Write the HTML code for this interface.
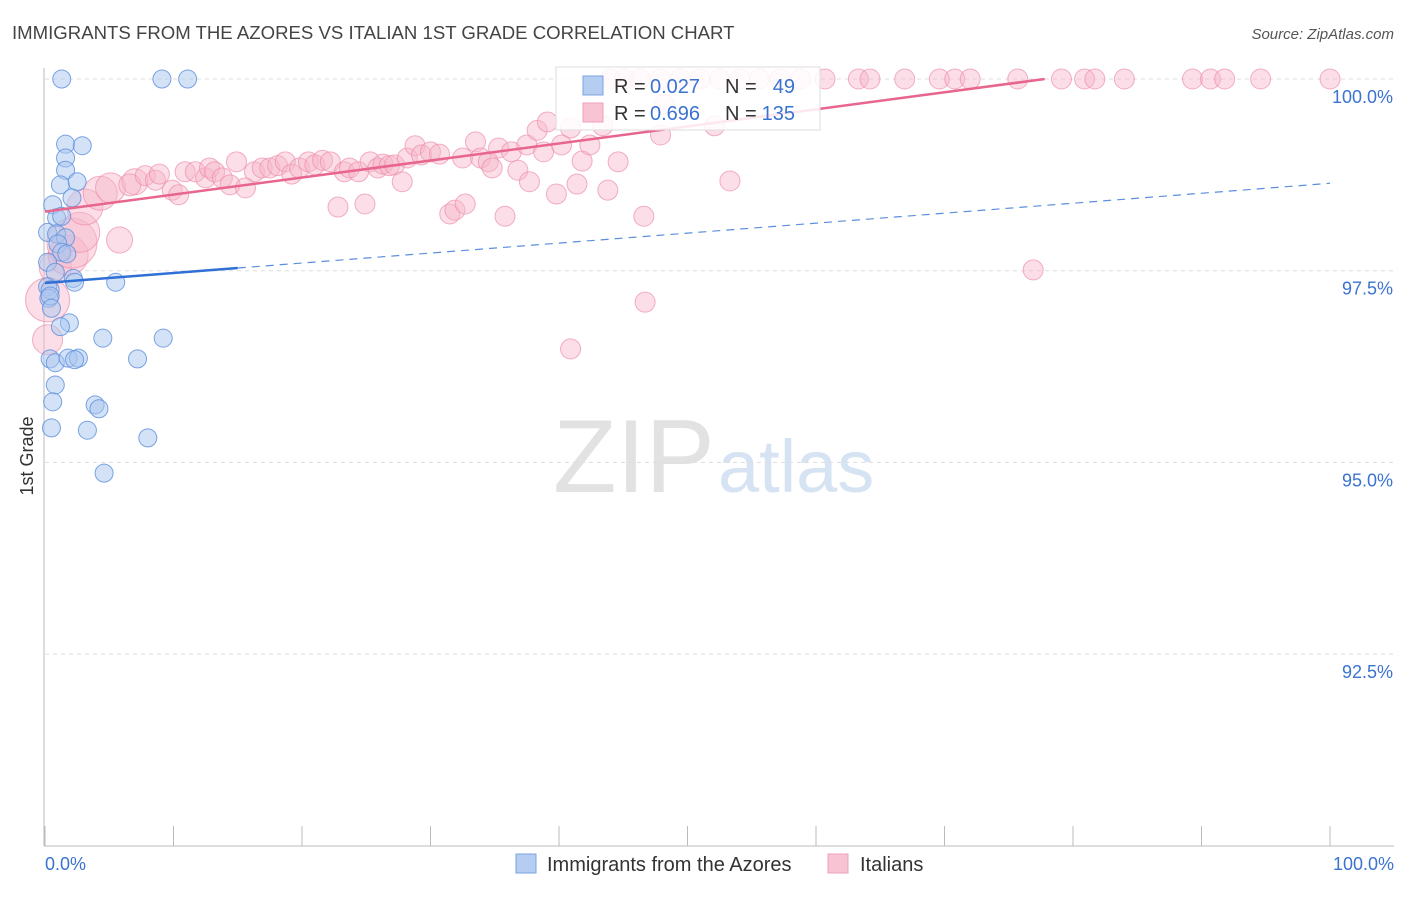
<!DOCTYPE html>
<html><head><meta charset="utf-8"><style>
body{margin:0;background:#fff;font-family:"Liberation Sans",sans-serif;}
svg text{font-family:"Liberation Sans",sans-serif;}
</style></head><body>
<svg id="chart" width="1406" height="892" viewBox="0 0 1406 892" xmlns="http://www.w3.org/2000/svg">
<text x="12" y="39" font-size="18.6" fill="#444">IMMIGRANTS FROM THE AZORES VS ITALIAN 1ST GRADE CORRELATION CHART</text>
<text x="1394" y="39" font-size="15" fill="#555" text-anchor="end" font-style="italic">Source: ZipAtlas.com</text>
<g>
<text x="553" y="492" font-size="104" fill="#e2e2e2" font-family="Liberation Serif,serif">ZIP</text>
<text x="718" y="492" font-size="74" fill="#d6e3f3">atlas</text>
</g>
<g id="grid"></g>
<g id="axes"></g>
<g id="pts"></g>
<g id="trend"></g>
<g>
<rect x="556" y="67" width="264" height="63" fill="#fff" fill-opacity="0.85" stroke="#ddd"/>
<rect x="583" y="76" width="20" height="19" fill="#b6cdf2" stroke="#7aa3e0"/>
<text x="614" y="93" font-size="20" fill="#333">R =</text>
<text x="650" y="93" font-size="20" fill="#3b73d0">0.027</text>
<text x="725" y="93" font-size="20" fill="#333">N =</text>
<text x="795" y="93" font-size="20" fill="#3b73d0" text-anchor="end">49</text>
<rect x="583" y="103" width="20" height="19" fill="#f8c3d3" stroke="#f0a0b8"/>
<text x="614" y="120" font-size="20" fill="#333">R =</text>
<text x="650" y="120" font-size="20" fill="#3b73d0">0.696</text>
<text x="725" y="120" font-size="20" fill="#333">N =</text>
<text x="795" y="120" font-size="20" fill="#3b73d0" text-anchor="end">135</text>
</g>
<g>
<rect x="516" y="854" width="20" height="19" fill="#b6cdf2" stroke="#7aa3e0"/>
<text x="547" y="871" font-size="20" fill="#333">Immigrants from the Azores</text>
<rect x="828" y="854" width="20" height="19" fill="#f8c3d3" stroke="#f0a0b8"/>
<text x="860" y="871" font-size="20" fill="#333">Italians</text>
</g>
<text transform="translate(33,456) rotate(-90)" font-size="18" fill="#333" text-anchor="middle">1st Grade</text>
</svg>
<script>
const yTicks=[100,97.5,95,92.5];
const yTickLabels=["100.0%","97.5%","95.0%","92.5%"];
const xTickLabels=["0.0%","100.0%"];
const blueX=[1.3,9.1,11.1,1.6,2.9,1.6,1.6,1.2,2.5,2.1,0.6,0.9,1.3,0.2,0.9,1.6,1.0,1.3,1.7,0.2,0.8,2.2,2.3,5.5,0.2,0.4,0.3,1.9,1.2,4.5,9.2,7.2,0.4,0.8,1.8,2.6,2.3,0.8,0.6,3.9,4.2,0.5,3.3,8.0,4.6,0.4,0.5];
const blueY=[100,100,100,99.15,99.13,98.97,98.81,98.62,98.66,98.45,98.36,98.19,98.21,98.0,97.98,97.93,97.85,97.74,97.72,97.61,97.48,97.4,97.35,97.35,97.29,97.25,97.14,96.82,96.77,96.62,96.62,96.35,96.35,96.3,96.36,96.36,96.34,96.01,95.79,95.75,95.7,95.45,95.42,95.32,94.86,97.17,97.01];
const pinkX=[0.2,0.2,0.8,1.8,2.1,2.7,3.1,4.3,5.1,5.8,7.0,6.6,7.8,8.6,8.9,9.9,10.4,10.9,11.7,12.5,12.8,13.2,13.8,14.4,14.9,15.6,16.3,16.9,17.5,18.1,18.7,19.2,19.8,20.5,21.0,21.6,22.2,22.8,23.3,23.7,24.4,24.9,25.3,25.9,26.3,26.8,27.2,27.8,28.2,28.8,29.3,30.0,30.7,31.5,31.9,32.5,32.7,33.5,33.9,34.5,34.8,35.3,35.8,36.3,36.8,37.5,37.7,38.3,38.8,39.1,39.8,40.2,40.9,41.4,41.8,42.4,43.4,43.8,44.6,46.6,46.7,47.9,48.2,52.1,53.3,40.9,76.9,44.0,45.1,46.3,47.9,49.4,51.0,52.5,54.1,55.6,57.2,58.8,60.7,63.3,64.2,66.9,69.6,70.8,72.0,75.7,79.1,80.9,81.7,84.0,89.3,90.7,91.8,94.6,100];
const pinkY=[97.12,96.6,97.54,97.7,97.86,98.0,98.33,98.51,98.58,97.9,98.66,98.62,98.74,98.68,98.76,98.55,98.49,98.79,98.79,98.71,98.84,98.79,98.71,98.62,98.92,98.58,98.79,98.84,98.84,98.87,98.92,98.76,98.84,98.92,98.88,98.94,98.92,98.33,98.79,98.84,98.79,98.37,98.92,98.84,98.89,98.87,98.88,98.66,98.97,99.13,99.01,99.05,99.02,98.24,98.29,98.97,98.37,99.18,98.97,98.92,98.84,99.1,98.21,99.05,98.81,99.14,98.66,99.33,99.05,99.44,98.5,99.14,99.36,98.63,98.93,99.14,99.39,98.55,98.92,98.21,97.09,99.27,99.67,99.39,98.67,96.48,97.51,100,100,100,100,100,100,100,100,100,100,100,100,100,100,100,100,100,100,100,100,100,100,100,100,100,100,100,100];
const pinkR=[22,15,16,20,25,20,18,17,15,13,13,11];
const blueTrend=[97.34,98.64];
const pinkTrend=[98.27,100,77.8];
const X=v=>45+v*12.85, Y=v=>79+(100-v)*76.68;
const NS="http://www.w3.org/2000/svg";
function mk(t,a,p){const e=document.createElementNS(NS,t);for(const k in a)e.setAttribute(k,a[k]);p.appendChild(e);return e;}
const grid=document.getElementById('grid'),axes=document.getElementById('axes'),pts=document.getElementById('pts'),tr=document.getElementById('trend');
yTicks.forEach((t,i)=>{
 const l=mk('line',{x1:45,x2:1394,y1:Y(t),y2:Y(t),stroke:'#ddd','stroke-dasharray':'4,4'},grid);
 
 
 const tx=mk('text',{x:1393,y:Y(t)+24,'font-size':18,fill:'#3b73d0','text-anchor':'end'},grid);tx.textContent=yTickLabels[i];
 
 
});
const ya=mk('line',{x1:44,x2:44,y1:68,y2:846,stroke:'#bbb'},axes);


const xa=mk('line',{x1:44,x2:1394,y1:846,y2:846,stroke:'#bbb'},axes);


for(let i=0;i<=10;i++){const tk=mk('line',{x1:X(i*10),x2:X(i*10),y1:826,y2:846,stroke:'#bbb'},axes);
 
 }
[[0,'start',45],[1,'end',1394]].forEach(([i,a,x])=>{const t=mk('text',{x:x,y:870,'font-size':18,fill:'#3b73d0','text-anchor':a},axes);t.textContent=xTickLabels[i];
 
 });
pinkX.forEach((x,i)=>{const c=mk('circle',{cx:X(x),cy:Y(pinkY[i]),r:pinkR[i]||10,fill:'#f7b6c9','fill-opacity':0.45,stroke:'#ee8fab','stroke-opacity':0.7},pts);
 
 });
blueX.forEach((x,i)=>{const c=mk('circle',{cx:X(x),cy:Y(blueY[i]),r:9,fill:'#a9c6f0','fill-opacity':0.5,stroke:'#5b8fdc','stroke-opacity':0.8},pts);
 
 });
const by=x=>blueTrend[0]+(blueTrend[1]-blueTrend[0])*x/100;
const b1=mk('line',{x1:X(0),y1:Y(by(0)),x2:X(15),y2:Y(by(15)),stroke:'#2f6fd6','stroke-width':2.5},tr);


const b2=mk('line',{x1:X(15),y1:Y(by(15)),x2:X(100),y2:Y(by(100)),stroke:'#5b8fdc','stroke-width':1.2,'stroke-dasharray':'8,6'},tr);


const p1=mk('line',{x1:X(0),y1:Y(pinkTrend[0]),x2:X(pinkTrend[2]),y2:Y(pinkTrend[1]),stroke:'#e8658e','stroke-width':2.5},tr);


</script>
</body></html>
